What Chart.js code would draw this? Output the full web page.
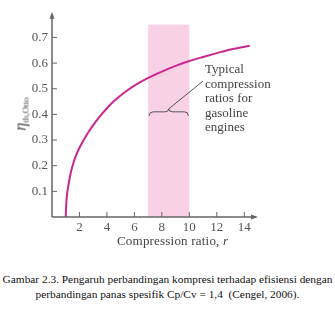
<!DOCTYPE html>
<html>
<head>
<meta charset="utf-8">
<script src="https://cdn.jsdelivr.net/npm/chart.js@4"></script>
<style>
    body { margin: 0; background: #fff; width: 335px; height: 333px; overflow: hidden; position: relative; font-family: "Liberation Serif", "DejaVu Serif", serif; }
    #wrap { position: absolute; left: 0; top: 0; width: 335px; height: 250px; }
    .lbl { position: absolute; color: #444; white-space: nowrap; }
    #ytitle { left: 23px; top: 114px; transform: translate(-50%, -50%) rotate(-90deg); font-size: 16px; line-height: 16px; }
    #ytitle sub { font-size: 9px; font-style: normal; vertical-align: -3px; }
    #xtitle { left: 117px; top: 233px; font-size: 13px; letter-spacing: 0.2px; }
    #note { left: 205px; top: 62px; font-size: 13px; line-height: 14.5px; }
    #caption { position: absolute; left: -3px; top: 272px; width: 341px; text-align: center; font-size: 11.35px; line-height: 15px; color: #111; white-space: nowrap; }
</style>
</head>
<body>
<div id="wrap"><canvas id="effChart"></canvas></div>
<div class="lbl" id="ytitle"><i>η</i><sub>th,Otto</sub></div>
<div class="lbl" id="xtitle">Compression ratio, <i>r</i></div>
<div class="lbl" id="note">Typical<br>compression<br>ratios for<br>gasoline<br>engines</div>
<div id="caption">Gambar 2.3. Pengaruh perbandingan kompresi terhadap efisiensi dengan<br>perbandingan panas spesifik Cp/Cv = 1,4&nbsp; (Cengel, 2006).</div>

<script>
// values
const ratios = [1, 1.02, 1.05, 1.1, 1.2, 1.3, 1.4, 1.5, 1.75, 2, 2.5, 3, 3.5, 4, 4.5, 5, 5.5, 6, 7, 8, 9, 10, 11, 12, 13, 14.4];
const efficiency = [0, 0.03, 0.06, 0.09, 0.125, 0.155, 0.18, 0.2, 0.24, 0.27, 0.318, 0.358, 0.393, 0.424, 0.451, 0.474, 0.494, 0.512, 0.542, 0.567, 0.589, 0.608, 0.624, 0.639, 0.653, 0.668];
const xTicks = [2, 4, 6, 8, 10, 12, 14];
const yTicks = [0.1, 0.2, 0.3, 0.4, 0.5, 0.6, 0.7];
const bandRange = [7, 10];
const bandTop = 0.75;

document.addEventListener('DOMContentLoaded', () => {
    const ctx = document.getElementById('effChart').getContext('2d');
    const axisColor = '#666';

    // --- pink band + hand drawn axes, ticks and brace ---
    const decor = {
        id: 'decor',
        beforeDatasetsDraw(chart) {
            const { ctx, scales: { x, y } } = chart;
            ctx.save();
            ctx.fillStyle = '#f9d1e5';
            const x0 = x.getPixelForValue(bandRange[0]);
            const x1 = x.getPixelForValue(bandRange[1]);
            const yt = y.getPixelForValue(bandTop);
            ctx.fillRect(x0, yt, x1 - x0, y.getPixelForValue(0) - yt);
            ctx.restore();
        },
        afterDraw(chart) {
            const { ctx, scales: { x, y } } = chart;
            const ox = x.getPixelForValue(0);
            const oy = y.getPixelForValue(0);
            const xr = x.right;
            const yt = y.top;
            ctx.save();
            ctx.strokeStyle = axisColor;
            ctx.fillStyle = axisColor;
            ctx.lineWidth = 1.5;
            ctx.beginPath();
            ctx.moveTo(ox, oy); ctx.lineTo(ox, yt + 4);
            ctx.moveTo(ox, oy); ctx.lineTo(xr - 4, oy);
            ctx.stroke();
            // arrow heads
            ctx.beginPath();
            ctx.moveTo(ox, yt); ctx.lineTo(ox - 2.5, yt + 7); ctx.lineTo(ox + 2.5, yt + 7); ctx.closePath();
            ctx.moveTo(xr, oy); ctx.lineTo(xr - 7, oy - 2.5); ctx.lineTo(xr - 7, oy + 2.5); ctx.closePath();
            ctx.fill();
            // inner tick marks
            ctx.lineWidth = 1;
            ctx.beginPath();
            yTicks.forEach(v => { const p = y.getPixelForValue(v); ctx.moveTo(ox, p); ctx.lineTo(ox + 5, p); });
            xTicks.forEach(v => { const p = x.getPixelForValue(v); ctx.moveTo(p, oy); ctx.lineTo(p, oy - 5); });
            ctx.stroke();

            // brace over the band
            const b0 = x.getPixelForValue(bandRange[0]) + 1;
            const b1 = x.getPixelForValue(bandRange[1]) - 1;
            const bm = (b0 + b1) / 2;
            const by = y.getPixelForValue(0.41);
            ctx.strokeStyle = '#555';
            ctx.lineWidth = 1;
            ctx.beginPath();
            ctx.moveTo(b0, by + 4);
            ctx.quadraticCurveTo(b0, by, b0 + 4, by);
            ctx.lineTo(bm - 4, by);
            ctx.quadraticCurveTo(bm, by, bm, by - 3);
            ctx.quadraticCurveTo(bm, by, bm + 4, by);
            ctx.lineTo(b1 - 4, by);
            ctx.quadraticCurveTo(b1, by, b1, by + 4);
            ctx.stroke();
            // leader line to the note
            ctx.beginPath();
            ctx.moveTo(bm, by - 3);
            ctx.lineTo(x.getPixelForValue(11.0), y.getPixelForValue(0.53));
            ctx.stroke();
            ctx.restore();
        }
    };

    new Chart(ctx, {
        type: 'line',
        data: {
            datasets: [{
                data: ratios.map((r, i) => ({ x: r, y: efficiency[i] })),
                borderColor: '#c8288e',
                borderWidth: 2,
                pointRadius: 0,
                cubicInterpolationMode: 'monotone',
                fill: false
            }]
        },
        options: {
            responsive: true,
            maintainAspectRatio: false,
            animation: false,
            events: [],
            layout: { padding: { top: 1, right: 77, left: 0, bottom: 0 } },
            plugins: { legend: { display: false }, tooltip: { enabled: false } },
            scales: {
                x: {
                    type: 'linear',
                    min: 0,
                    max: 15,
                    grid: { display: false, drawTicks: false },
                    border: { display: false },
                    afterBuildTicks: s => { s.ticks = xTicks.map(v => ({ value: v })); },
                    afterFit: s => { s.height = 33; },
                    ticks: {
                        padding: 3,
                        maxRotation: 0,
                        autoSkip: false,
                        color: '#555',
                        font: { family: 'Liberation Serif', size: 13 }
                    }
                },
                y: {
                    min: 0,
                    max: 0.8,
                    grid: { display: false, drawTicks: false },
                    border: { display: false },
                    afterBuildTicks: s => { s.ticks = yTicks.map(v => ({ value: v })); },
                    afterFit: s => { s.width = 52; },
                    ticks: {
                        padding: 4,
                        color: '#555',
                        font: { family: 'Liberation Serif', size: 13 },
                        callback: v => v.toFixed(1)
                    }
                }
            }
        },
        plugins: [decor]
    });
});
</script>
</body>
</html>
